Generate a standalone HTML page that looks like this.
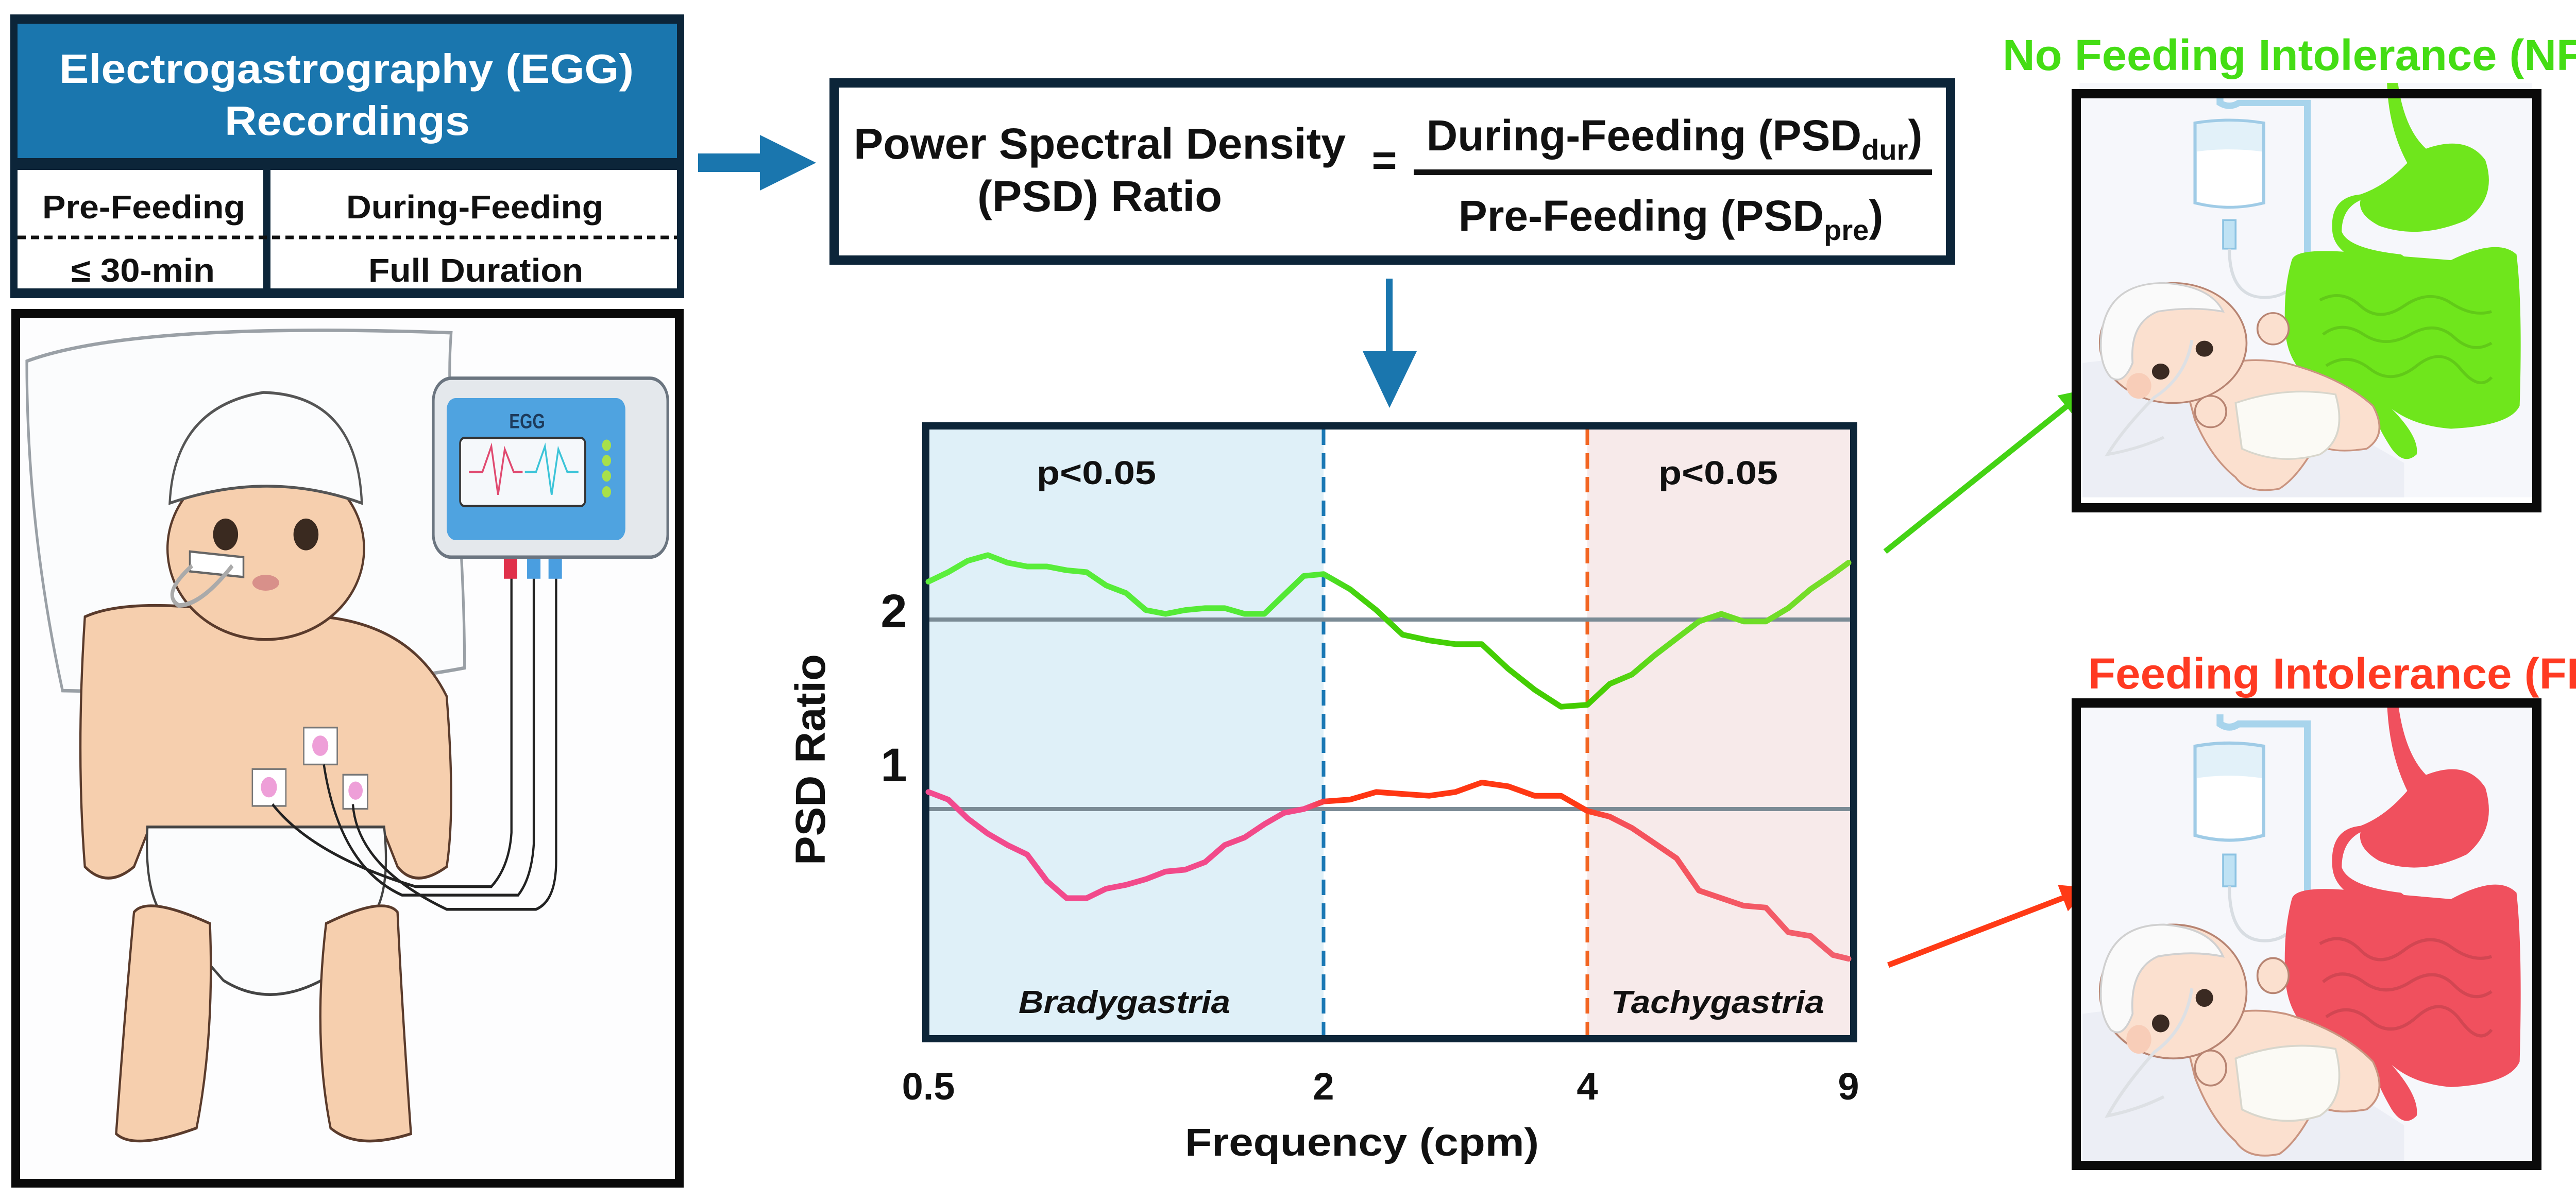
<!DOCTYPE html>
<html><head><meta charset="utf-8"><style>
html,body{margin:0;padding:0;background:#fff}
svg{display:block}
text{font-family:"Liberation Sans",Arial,sans-serif;font-weight:bold}
</style></head><body>
<svg id="root" width="5142" height="2334" viewBox="0 0 5142 2334" xmlns="http://www.w3.org/2000/svg">
<defs>
 <symbol id="illus" viewBox="0 0 1568 1568">
  <rect x="60" y="20" width="1450" height="1450" fill="#f6f7fb"/>
  <path d="M70 1000 Q400 950 700 1100 L1100 1350 L1100 1470 L70 1470Z" fill="#eceef5"/>
  <path d="M510 60 L510 90 Q540 110 570 90 L790 90 L790 620" fill="none" stroke="#a8d4ec" stroke-width="22"/>
  <path d="M430 160 Q540 140 650 160 L650 440 Q540 470 430 440Z" fill="#e2f1f9" stroke="#9fcbe6" stroke-width="10"/>
  <path d="M436 260 Q540 245 644 260 L644 435 Q540 465 436 435Z" fill="#fff"/>
  <rect x="520" y="500" width="40" height="100" fill="#bfe2f4" stroke="#8cc3e2" stroke-width="6"/>
  <path d="M540 600 Q540 760 640 770 Q760 780 790 620" fill="none" stroke="#d8dde2" stroke-width="10"/>
  <g fill="currentColor">
   <path d="M1045 20 L1080 20 Q1100 180 1170 250 Q1300 200 1360 290 Q1400 420 1300 500 Q1150 570 1020 520 Q950 480 960 430 Q900 460 900 540 Q920 600 1090 620 L1130 650 L1100 680 Q880 650 870 540 Q860 420 960 410 Q1040 380 1110 300 Q1050 180 1045 20Z"/>
   <path d="M740 640 Q750 600 900 610 L1250 640 Q1400 560 1460 620 Q1480 800 1470 1150 Q1440 1220 1250 1230 Q1130 1220 1060 1160 Q1150 1260 1140 1320 Q1100 1360 1060 1300 Q1000 1200 1000 1150 Q900 1080 800 1060 Q730 1000 720 900 Q710 750 740 640Z"/>
  </g>
  <g fill="none" stroke="#000" stroke-opacity="0.12" stroke-width="10">
   <path d="M830 780 Q900 740 960 800 T1100 800 T1250 790 T1380 820"/>
   <path d="M840 900 Q900 850 970 900 T1120 900 T1260 910 T1380 930"/>
   <path d="M850 1010 Q920 960 990 1020 T1140 1010 T1280 1020 T1380 1050"/>
  </g>
  <path d="M400 1080 Q520 960 720 1000 Q900 1050 1000 1150 Q1050 1250 980 1300 Q860 1320 820 1280 Q760 1400 700 1440 Q600 1460 560 1400 Q480 1330 430 1200Z" fill="#fbe0cf" stroke="#c99480" stroke-width="6"/>
  <path d="M560 1140 Q720 1080 880 1110 Q920 1260 830 1320 Q700 1360 580 1300Z" fill="#fbfaf5" stroke="#d8d6cc" stroke-width="6"/>
  <ellipse cx="360" cy="930" rx="235" ry="210" fill="#fbe0cf" stroke="#b78472" stroke-width="6"/>
  <path d="M130 900 Q150 720 330 720 Q480 730 520 820 Q420 800 310 820 Q220 860 230 1000 Q200 1080 160 1050 Q120 1000 130 900Z" fill="#fafafa" stroke="#d0d0d0" stroke-width="6"/>
  <circle cx="460" cy="950" r="28" fill="#3a2a22"/>
  <circle cx="320" cy="1030" r="28" fill="#3a2a22"/>
  <ellipse cx="250" cy="1080" rx="40" ry="45" fill="#f8cdb8"/>
  <path d="M420 920 Q400 1050 300 1120 Q200 1230 150 1320 Q250 1300 330 1260" fill="none" stroke="#dde0e4" stroke-width="10"/>
  <ellipse cx="680" cy="880" rx="50" ry="55" fill="#fbe0cf" stroke="#b78472" stroke-width="6"/>
  <ellipse cx="480" cy="1170" rx="50" ry="55" fill="#fbe0cf" stroke="#b78472" stroke-width="6"/>
 </symbol>
 <marker id="ahG" viewBox="0 0 10 10" refX="8" refY="5" markerWidth="5" markerHeight="5" orient="auto"><path d="M0 0 L10 5 L0 10Z" fill="#44d314"/></marker>
 <marker id="ahR" viewBox="0 0 10 10" refX="8" refY="5" markerWidth="5" markerHeight="5" orient="auto"><path d="M0 0 L10 5 L0 10Z" fill="#ff3a16"/></marker>
 <linearGradient id="gGreen" gradientUnits="userSpaceOnUse" x1="1802" y1="0" x2="3588" y2="0">
  <stop offset="0" stop-color="#5cef3c"/><stop offset="0.42" stop-color="#52e834"/>
  <stop offset="0.47" stop-color="#44d10a"/><stop offset="0.72" stop-color="#44cc00"/>
  <stop offset="0.8" stop-color="#66dd22"/><stop offset="1" stop-color="#78dd2a"/>
 </linearGradient>
 <linearGradient id="gRed" gradientUnits="userSpaceOnUse" x1="1802" y1="0" x2="3588" y2="0">
  <stop offset="0" stop-color="#f24a8e"/><stop offset="0.41" stop-color="#f24a88"/>
  <stop offset="0.44" stop-color="#ff3412"/><stop offset="0.71" stop-color="#ff3a14"/>
  <stop offset="0.75" stop-color="#f5505a"/><stop offset="1" stop-color="#f2606e"/>
 </linearGradient>
</defs>

<g>
 <rect x="20" y="28" width="1308" height="551" fill="#0c2539"/>
 <rect x="34" y="46" width="1280" height="261" fill="#1a76ae"/>
 <rect x="34" y="330" width="477" height="230" fill="#fff"/>
 <rect x="525" y="330" width="789" height="230" fill="#fff"/>
 <line x1="34" y1="461" x2="1314" y2="461" stroke="#111" stroke-width="7" stroke-dasharray="16 10"/>
 <text x="115" y="161" fill="#fff" font-size="80" textLength="1115" lengthAdjust="spacingAndGlyphs">Electrogastrography (EGG)</text>
 <text x="436" y="262" fill="#fff" font-size="80" textLength="476" lengthAdjust="spacingAndGlyphs">Recordings</text>
 <text x="82" y="424" fill="#111" font-size="64" textLength="394" lengthAdjust="spacingAndGlyphs">Pre-Feeding</text>
 <text x="672" y="424" fill="#111" font-size="64" textLength="499" lengthAdjust="spacingAndGlyphs">During-Feeding</text>
 <text x="138" y="547" fill="#111" font-size="64" textLength="279" lengthAdjust="spacingAndGlyphs">≤ 30-min</text>
 <text x="715" y="547" fill="#111" font-size="64" textLength="417" lengthAdjust="spacingAndGlyphs">Full Duration</text>
</g>

<g>
 <rect x="22" y="600" width="1305" height="1706" fill="#0a0a0a"/>
 <rect x="39" y="617" width="1271" height="1672" fill="#fdfdfe"/>
 <g transform="translate(0,580) scale(0.867,1.103)">
  <path d="M60 110 Q300 40 1010 60 Q1000 160 1020 300 Q1040 500 1040 650 Q700 700 140 690 Q60 400 60 110Z" fill="#fbfcfd" stroke="#9aa0a6" stroke-width="6"/>
  <path d="M190 560 Q300 520 600 560 Q900 540 1000 700 Q1020 900 1000 1000 Q930 1040 890 1000 L860 940 L330 940 L300 1000 Q240 1040 190 1000 Q170 800 190 560Z" fill="#f6cfae" stroke="#5a3b2c" stroke-width="5"/>
  <path d="M330 930 L860 930 Q880 1080 800 1110 L720 1200 Q600 1250 500 1200 L400 1110 Q320 1080 330 930Z" fill="#fbfcfd" stroke="#444" stroke-width="5"/>
  <path d="M300 1080 Q330 1050 470 1100 Q480 1300 440 1460 Q300 1500 260 1470 Q280 1250 300 1080Z" fill="#f6cfae" stroke="#5a3b2c" stroke-width="5"/>
  <path d="M730 1100 Q860 1050 890 1080 Q900 1250 920 1470 Q800 1500 740 1460 Q700 1300 730 1100Z" fill="#f6cfae" stroke="#5a3b2c" stroke-width="5"/>
  <ellipse cx="595" cy="440" rx="220" ry="160" fill="#f6cfae" stroke="#5a3b2c" stroke-width="5"/>
  <path d="M380 360 Q390 190 590 165 Q800 170 810 360 Q600 300 380 360Z" fill="#fbfcfd" stroke="#555" stroke-width="5"/>
  <circle cx="505" cy="415" r="28" fill="#3a2a20"/><circle cx="685" cy="415" r="28" fill="#3a2a20"/>
  <ellipse cx="595" cy="500" rx="30" ry="14" fill="#d8908a"/>
  <path d="M425 445 L545 455 L545 490 L425 480Z" fill="#fff" stroke="#666" stroke-width="4"/>
  <path d="M430 470 Q360 520 400 540 Q450 540 520 470" fill="none" stroke="#aaa" stroke-width="8"/>
  <rect x="680" y="755" width="75" height="65" fill="#fff" stroke="#777" stroke-width="3"/><circle cx="717" cy="787" r="18" fill="#ee9fd8"/>
  <rect x="565" y="828" width="75" height="65" fill="#fff" stroke="#777" stroke-width="3"/><circle cx="602" cy="860" r="18" fill="#ee9fd8"/>
  <rect x="768" y="838" width="55" height="60" fill="#fff" stroke="#777" stroke-width="3"/><circle cx="796" cy="866" r="16" fill="#ee9fd8"/>
  <g fill="none" stroke="#222" stroke-width="5">
   <path d="M610 890 Q700 980 930 1035 L1100 1035 Q1140 1000 1145 940 L1145 490"/>
   <path d="M725 820 Q760 1000 900 1050 L1160 1050 Q1190 1020 1195 960 L1195 490"/>
   <path d="M790 890 Q800 1000 1000 1075 L1200 1075 Q1245 1060 1245 990 L1245 490"/>
  </g>
  <rect x="970" y="140" width="525" height="315" rx="40" fill="#e4e8ec" stroke="#6b7580" stroke-width="6"/>
  <rect x="1000" y="175" width="400" height="250" rx="20" fill="#4fa3e0"/>
  <rect x="1030" y="245" width="280" height="120" rx="10" fill="#f5f8fb" stroke="#333" stroke-width="4"/>
  <text x="1180" y="228" font-size="36" fill="#1d3b5c" text-anchor="middle">EGG</text>
  <path d="M1050 305 L1080 305 L1100 260 L1115 345 L1130 265 L1150 305 L1170 305" fill="none" stroke="#e04a70" stroke-width="4"/>
  <path d="M1175 305 L1200 305 L1220 260 L1235 345 L1250 265 L1270 305 L1295 305" fill="none" stroke="#3cc4d8" stroke-width="4"/>
  <g fill="#a8e04a"><circle cx="1358" cy="258" r="10"/><circle cx="1358" cy="285" r="10"/><circle cx="1358" cy="312" r="10"/><circle cx="1358" cy="340" r="10"/></g>
  <rect x="1128" y="458" width="30" height="35" fill="#e0304a"/><rect x="1180" y="458" width="30" height="35" fill="#4a9ee0"/><rect x="1228" y="458" width="30" height="35" fill="#4a9ee0"/>
 </g>
</g>

<g>
 <rect x="1355" y="298" width="125" height="36" fill="#1a76ae"/>
 <path d="M1475 262 L1584 316 L1475 370Z" fill="#1a76ae"/>
</g>

<g>
 <rect x="1610" y="152" width="2185" height="362" fill="#0c2539"/>
 <rect x="1628" y="170" width="2149" height="326" fill="#fff"/>
 <text x="1657" y="308" font-size="84" fill="#111" textLength="955" lengthAdjust="spacingAndGlyphs">Power Spectral Density</text>
 <text x="1897" y="410" font-size="84" fill="#111" textLength="475" lengthAdjust="spacingAndGlyphs">(PSD) Ratio</text>
 <text x="2687" y="340" font-size="84" fill="#111" text-anchor="middle">=</text>
 <rect x="2744" y="329" width="1006" height="11" fill="#111"/>
 <text x="3250" y="292" font-size="84" fill="#111" text-anchor="middle">During-Feeding (PSD<tspan font-size="56" dy="18">dur</tspan><tspan dy="-18">)</tspan></text>
 <text x="3243" y="448" font-size="84" fill="#111" text-anchor="middle">Pre-Feeding (PSD<tspan font-size="56" dy="18">pre</tspan><tspan dy="-18">)</tspan></text>
</g>

<g>
 <rect x="2690" y="541" width="13" height="145" fill="#1a76ae"/>
 <path d="M2645 682 L2750 682 L2697 792Z" fill="#1a76ae"/>
</g>

<g id="chart">
 <rect x="1790" y="820" width="1815" height="1204" fill="#0d2538"/>
 <rect x="1804" y="834" width="1787" height="1176" fill="#fff"/>
 <g id="regions"></g>
 <g id="grid"></g>
 <g id="series"></g>
 <text x="2012" y="940" font-size="64" fill="#111" textLength="232" lengthAdjust="spacingAndGlyphs">p&lt;0.05</text>
 <text x="3219" y="940" font-size="64" fill="#111" textLength="232" lengthAdjust="spacingAndGlyphs">p&lt;0.05</text>
 <text x="1977" y="1967" font-size="62" font-style="italic" fill="#111" textLength="411" lengthAdjust="spacingAndGlyphs">Bradygastria</text>
 <text x="3127" y="1967" font-size="62" font-style="italic" fill="#111" textLength="414" lengthAdjust="spacingAndGlyphs">Tachygastria</text>
 <g id="xticks"></g>
 <g id="yticks"></g>
 <text x="2300" y="2244" font-size="76" fill="#111" textLength="687" lengthAdjust="spacingAndGlyphs">Frequency (cpm)</text>
 <text transform="translate(1601,1680) rotate(-90)" x="0" y="0" font-size="82" fill="#111" textLength="410" lengthAdjust="spacingAndGlyphs">PSD Ratio</text>
</g>

<line x1="3659" y1="1071" x2="4045" y2="762" stroke="#44d314" stroke-width="11" marker-end="url(#ahG)"/>
<line x1="3665" y1="1874" x2="4045" y2="1728" stroke="#ff3a16" stroke-width="11" marker-end="url(#ahR)"/>

<text x="3887" y="136" font-size="84" fill="#44dd14" textLength="1181" lengthAdjust="spacingAndGlyphs">No Feeding Intolerance (NFI)</text>
<g>
 <svg x="4000" y="150" width="950" height="870" viewBox="0 0 1568 1568" preserveAspectRatio="none" style="color:#6fe61c"><use href="#illus"/></svg>
 <rect x="4030" y="182" width="894" height="804" fill="none" stroke="#0a0a0a" stroke-width="18"/>
 <rect x="4000" y="995" width="950" height="30" fill="#fff"/>
</g>

<text x="4053" y="1337" font-size="84" fill="#ff3a22" textLength="982" lengthAdjust="spacingAndGlyphs">Feeding Intolerance (FI)</text>
<g>
 <svg x="4000" y="1350" width="950" height="970" viewBox="0 0 1568 1568" preserveAspectRatio="none" style="color:#f0505e"><use href="#illus"/></svg>
 <rect x="4030" y="1365" width="894" height="898" fill="none" stroke="#0a0a0a" stroke-width="18"/>
 <rect x="4000" y="2272" width="950" height="62" fill="#fff"/>
</g>
</svg>

<script>
// ---- chart data ----
const freqs = [0.5,0.536,0.574,0.616,0.66,0.707,0.758,0.812,0.871,0.933,1,1.072,1.149,1.231,1.32,1.414,1.516,1.625,1.741,1.866,2,
  2.144,2.297,2.462,2.639,2.828,3.031,3.249,3.482,3.732,4,
  4.287,4.595,4.925,5.278,5.657,6.063,6.498,6.964,7.464,8,8.574,9];
const nfiRatio = [2.20,2.25,2.31,2.34,2.30,2.28,2.28,2.26,2.25,2.18,2.14,2.05,2.03,2.05,2.06,2.06,2.03,2.03,2.13,2.23,2.24,
  2.16,2.05,1.92,1.89,1.87,1.87,1.74,1.63,1.54,1.55,
  1.66,1.71,1.81,1.90,1.99,2.03,1.99,1.99,2.06,2.16,2.24,2.30];
const fiRatio = [1.09,1.05,0.95,0.87,0.81,0.76,0.62,0.53,0.53,0.58,0.60,0.63,0.67,0.68,0.72,0.81,0.85,0.92,0.98,1.00,1.04,
  1.05,1.09,1.08,1.07,1.09,1.14,1.12,1.07,1.07,0.99,
  0.96,0.90,0.82,0.74,0.57,0.53,0.49,0.48,0.35,0.33,0.23,0.21];
const xTickValues = [0.5,2,4,9];
const xTickLabels = ["0.5","2","4","9"];
const yTickValues = [1,2];
const yTickLabels = ["1","2"];
const refLines = [1,2];
const bandBreaks = [0.5,2,4,9];

const xDomain = [0.5,2,4,9];
const xRange = [1802,2569,3081,3588];
function xScale(f){
  for(let i=0;i<xDomain.length-1;i++){
    if(f<=xDomain[i+1]||i===xDomain.length-2){
      const t=(Math.log2(f)-Math.log2(xDomain[i]))/(Math.log2(xDomain[i+1])-Math.log2(xDomain[i]));
      return xRange[i]+t*(xRange[i+1]-xRange[i]);
    }
  }
}
function yScale(v){ return 1571-(v-1)*368; }

const NS="http://www.w3.org/2000/svg";
function mk(tag,attrs,parent){const e=document.createElementNS(NS,tag);for(const k in attrs)e.setAttribute(k,attrs[k]);parent.appendChild(e);return e;}

const regionsG=document.getElementById('regions');
const plotTop=834, plotBot=2010;
const r1=mk('rect',{x:1804,y:plotTop,width:xScale(bandBreaks[1])-1804,height:plotBot-plotTop,fill:'#dff0f8'},regionsG);


const r2=mk('rect',{x:xScale(bandBreaks[2]),y:plotTop,width:3591-xScale(bandBreaks[2]),height:plotBot-plotTop,fill:'#f7eaea'},regionsG);


const d1=mk('line',{x1:xScale(bandBreaks[1]),x2:xScale(bandBreaks[1]),y1:plotTop,y2:plotBot,stroke:'#1a78b4','stroke-width':7,'stroke-dasharray':'30 16'},regionsG);


const d2=mk('line',{x1:xScale(bandBreaks[2]),x2:xScale(bandBreaks[2]),y1:plotTop,y2:plotBot,stroke:'#f26522','stroke-width':7,'stroke-dasharray':'30 16'},regionsG);



const gridG=document.getElementById('grid');
refLines.forEach(v=>{
  const l=mk('line',{x1:1804,x2:3591,y1:yScale(v),y2:yScale(v),stroke:'#7b8b95','stroke-width':8},gridG);
  
  
});

const seriesG=document.getElementById('series');
function pathOf(vals){return vals.map((v,i)=>(i?'L':'M')+xScale(freqs[i]).toFixed(1)+' '+yScale(v).toFixed(1)).join(' ');}
const pg=mk('path',{d:pathOf(nfiRatio),fill:'none',stroke:'url(#gGreen)','stroke-width':11,'stroke-linejoin':'round','stroke-linecap':'round'},seriesG);


const pr=mk('path',{d:pathOf(fiRatio),fill:'none',stroke:'url(#gRed)','stroke-width':11,'stroke-linejoin':'round','stroke-linecap':'round'},seriesG);



const xtG=document.getElementById('xticks');
xTickValues.forEach((v,i)=>{
  const t=mk('text',{x:xScale(v),y:2135,'font-size':74,fill:'#111','text-anchor':'middle'},xtG);
  t.textContent=xTickLabels[i];
  
  
});
const ytG=document.getElementById('yticks');
yTickValues.forEach((v,i)=>{
  const t=mk('text',{x:1735,y:yScale(v)+(v===1?-54:15),'font-size':92,fill:'#111','text-anchor':'middle'},ytG);
  t.textContent=yTickLabels[i];
  
  
});
</script>
</body></html>
